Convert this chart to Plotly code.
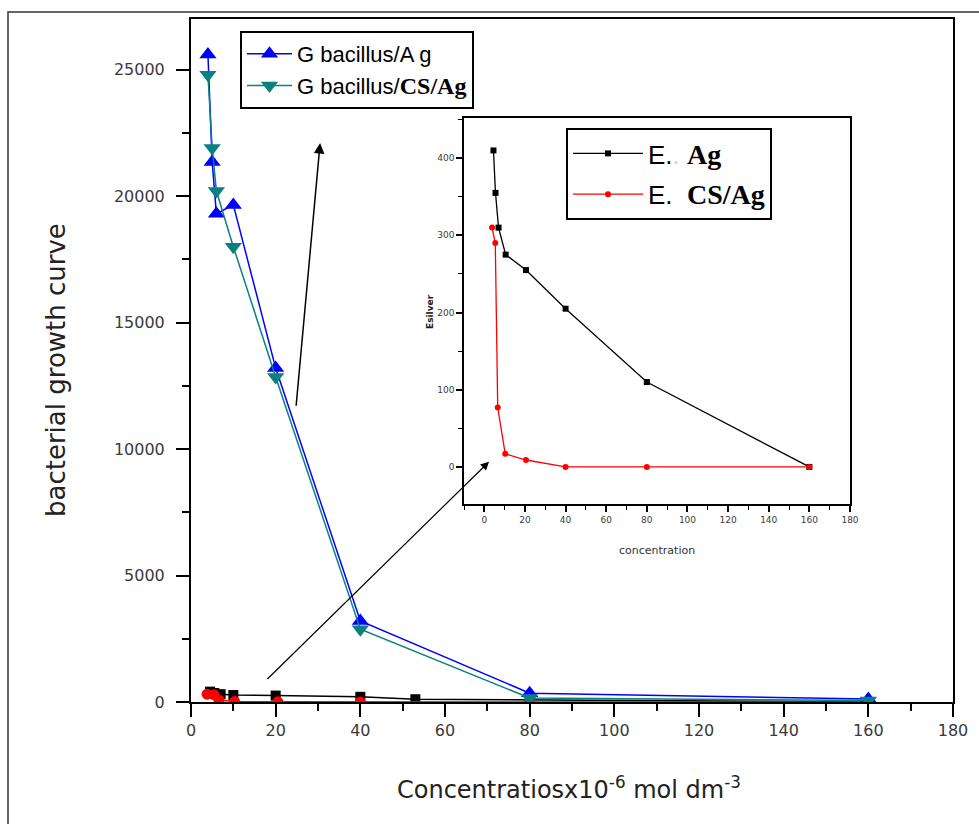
import plotly.graph_objects as go

# ---------------- data ----------------
# main panel: G bacillus
g_x = [4, 5, 6, 10, 20, 40, 80, 160]
g_ag = [25600, 21350, 19300, 19650, 13200, 3200, 350, 120]
g_csag = [24800, 21900, 20200, 18000, 12850, 2880, 160, 60]

# main panel: E. (same small values, drawn near zero)
e_ag_main_x = [4.5, 5.5, 7, 10, 20, 40, 53, 160]
e_ag_main = [410, 355, 310, 275, 255, 205, 110, 0]
e_csag_main_x = [3.8, 5.4, 6.6, 10.3, 20.5, 40, 80, 160]
e_csag_main = [310, 290, 77, 17, 9, 0, 0, 0]

# inset panel: E. silver
e_ag_x = [4.5, 5.5, 7, 10.5, 20.5, 40, 80, 160]
e_ag = [410, 355, 310, 275, 255, 205, 110, 0]
e_csag_x = [3.8, 5.4, 6.6, 10.3, 20.5, 40, 80, 160]
e_csag = [310, 290, 77, 17, 9, 0, 0, 0]

main_xticks = list(range(0, 181, 20))
main_yticks = list(range(0, 25001, 5000))
inset_xticks = list(range(0, 181, 20))
inset_yticks = list(range(0, 401, 100))

# ---------------- figure ----------------
W, H = 979, 824
L, R, T, B = 191, 26, 19, 122
pw, ph = W - L - R, H - T - B


def px(xp):
    return (xp - L) / pw


def py(yp):
    return (H - B - yp) / ph


SANS = "Liberation Sans"

fig = go.Figure()

fig.add_trace(go.Scatter(
    x=e_ag_main_x, y=e_ag_main, mode="lines+markers", showlegend=False,
    line=dict(color="black", width=1.5),
    marker=dict(symbol="square", size=10, color="black"),
))
fig.add_trace(go.Scatter(
    x=e_csag_main_x, y=e_csag_main, mode="lines+markers", showlegend=False,
    line=dict(color="#ff0000", width=1.5),
    marker=dict(symbol="circle", size=11, color="#ff0000"),
))
fig.add_trace(go.Scatter(
    x=g_x, y=g_ag, mode="lines+markers", name="G bacillus/A g",
    legend="legend", legendgroup="a",
    line=dict(color="#0000ff", width=1.5),
    marker=dict(symbol="triangle-up", size=15, color="#0000ff"),
))
fig.add_trace(go.Scatter(
    x=g_x, y=g_csag, mode="lines+markers",
    name="G bacillus/<b><span style='font-family:Liberation Serif;font-size:24px'>CS/Ag</span></b>",
    legend="legend", legendgroup="b",
    line=dict(color="#0a8080", width=1.5),
    marker=dict(symbol="triangle-down", size=15, color="#0a8080"),
))

# inset
fig.add_trace(go.Scatter(
    x=e_ag_x, y=e_ag, mode="lines+markers", xaxis="x2", yaxis="y2",
    name="E.<span style='color:#ead2b8'>.</span> <b><span style='font-family:Liberation Serif;font-size:28px'>Ag</span></b>",
    legend="legend2", legendgroup="c",
    line=dict(color="black", width=1.3),
    marker=dict(symbol="square", size=6, color="black"),
))
fig.add_trace(go.Scatter(
    x=e_csag_x, y=e_csag, mode="lines+markers", xaxis="x2", yaxis="y2",
    name="E.  <b><span style='font-family:Liberation Serif;font-size:28px'>CS/Ag</span></b>",
    legend="legend2", legendgroup="d",
    line=dict(color="#ff0000", width=1.3),
    marker=dict(symbol="circle", size=6, color="#ff0000"),
))

tickfont_main = dict(family="DejaVu Sans", size=16, color="#3a3a3a")
tickfont_inset = dict(family="DejaVu Sans", size=9, color="#3a3a3a")

fig.update_layout(
    width=W, height=H,
    margin=dict(l=L, r=R, t=T, b=B, pad=0),
    paper_bgcolor="white", plot_bgcolor="white",
    xaxis=dict(
        domain=[0, 1], range=[0, 180], tickvals=main_xticks, tickformat="d",
        showline=True, linecolor="black", linewidth=2, mirror=True,
        ticks="outside", ticklen=13, tickwidth=2, tickcolor="black",
        minor=dict(ticks="outside", dtick=10, ticklen=7, tickwidth=2, tickcolor="black"),
        showgrid=False, zeroline=False, tickfont=tickfont_main,
    ),
    yaxis=dict(
        domain=[0, 1], range=[0, 27000], tickvals=main_yticks, tickformat="d",
        showline=True, linecolor="black", linewidth=2, mirror=True,
        ticks="outside", ticklen=13, tickwidth=2, tickcolor="black",
        minor=dict(ticks="outside", dtick=2500, ticklen=7, tickwidth=2, tickcolor="black"),
        showgrid=False, zeroline=False, tickfont=tickfont_main,
        ticklabelstandoff=8,
    ),
    xaxis2=dict(
        domain=[px(464), px(850)], anchor="y2", range=[-10, 180], tickvals=inset_xticks,
        tickformat="d",
        showline=True, linecolor="black", linewidth=1.5, mirror=True,
        ticks="outside", ticklen=6, tickwidth=1.5, tickcolor="black",
        minor=dict(ticks="outside", dtick=10, ticklen=4, tickwidth=1.2, tickcolor="black"),
        showgrid=False, zeroline=False, tickfont=tickfont_inset,
    ),
    yaxis2=dict(
        domain=[py(504), py(118)], anchor="x2", range=[-48, 452], tickvals=inset_yticks,
        tickformat="d",
        showline=True, linecolor="black", linewidth=1.5, mirror=True,
        ticks="outside", ticklen=6, tickwidth=1.5, tickcolor="black",
        minor=dict(ticks="outside", dtick=50, ticklen=4, tickwidth=1.2, tickcolor="black"),
        showgrid=False, zeroline=False, tickfont=tickfont_inset,
    ),
    legend=dict(
        x=px(240), y=py(31), xanchor="left", yanchor="top",
        bgcolor="white", bordercolor="black", borderwidth=2,
        font=dict(family=SANS, size=22, color="black"),
        tracegroupgap=0, itemsizing="trace", itemwidth=45,
    ),
    legend2=dict(
        x=px(566), y=py(128), xanchor="left", yanchor="top",
        bgcolor="white", bordercolor="black", borderwidth=2,
        font=dict(family=SANS, size=26, color="black"),
        tracegroupgap=4, itemsizing="trace", itemwidth=70,
    ),
    showlegend=True,
)

# axis titles as text annotations
fig.add_annotation(
    text="bacterial growth curve", xref="paper", yref="paper",
    x=px(56), y=py(370), textangle=-90, showarrow=False,
    xanchor="center", yanchor="middle",
    font=dict(family="DejaVu Sans", size=26, color="#222"),
)
fig.add_annotation(
    text="Concentratiosx10<sup>-6</sup> mol dm<sup>-3</sup>", xref="paper", yref="paper",
    x=px(569), y=py(788), showarrow=False, xanchor="center", yanchor="middle",
    font=dict(family="DejaVu Sans", size=24, color="#222"),
)
fig.add_annotation(
    text="concentration", xref="paper", yref="paper",
    x=px(657), y=py(550), showarrow=False, xanchor="center", yanchor="middle",
    font=dict(family="DejaVu Sans", size=11, color="#333"),
)
fig.add_annotation(
    text="<b>Esilver</b>", xref="paper", yref="paper",
    x=px(430), y=py(312), textangle=-90, showarrow=False,
    xanchor="center", yanchor="middle",
    font=dict(family="DejaVu Sans", size=9, color="#222"),
)

# arrows (in data coordinates of the main axes)
fig.add_annotation(
    x=30.5, y=22100, ax=24.8, ay=11650, xref="x", yref="y", axref="x", ayref="y",
    showarrow=True, arrowhead=2, arrowsize=1.4, arrowwidth=1.5, arrowcolor="black", text="",
)
fig.add_annotation(
    x=70.4, y=9500, ax=17.7, ay=850, xref="x", yref="y", axref="x", ayref="y",
    showarrow=True, arrowhead=2, arrowsize=1.4, arrowwidth=1.2, arrowcolor="black", text="",
)

# outer frame of the picture
fig.add_shape(
    type="rect", xref="paper", yref="paper",
    x0=px(8), x1=px(1020), y0=py(860), y1=py(12),
    line=dict(color="#333", width=1.5), fillcolor="rgba(0,0,0,0)", layer="below",
)

fig.write_html("out.html")
